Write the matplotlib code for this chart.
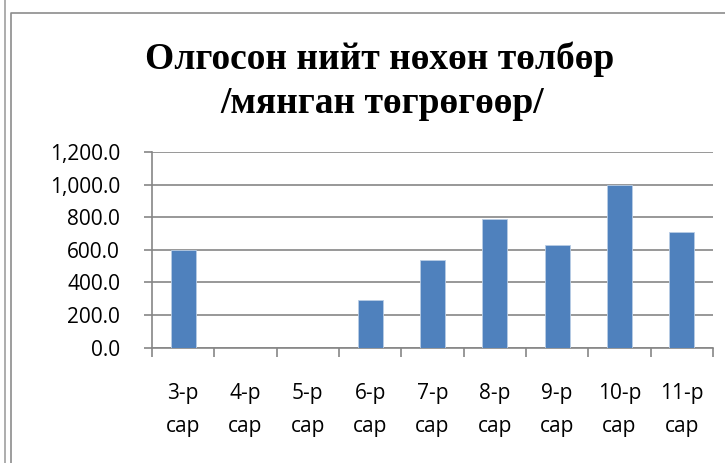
import matplotlib.pyplot as plt
from matplotlib.lines import Line2D

# Data
months = ['3-р\nсар', '4-р\nсар', '5-р\nсар', '6-р\nсар', '7-р\nсар',
          '8-р\nсар', '9-р\nсар', '10-р\nсар', '11-р\nсар']
payments = [600, 0, 0, 292, 538, 790, 630, 1000, 710]
y_ticks = [0, 200, 400, 600, 800, 1000, 1200]

title_line1 = 'Олгосон нийт нөхөн төлбөр'
title_line2 = '/мянган төгрөгөөр/'

BAR_COLOR = '#4F81BD'
AXIS_COLOR = '#868686'

fig = plt.figure(figsize=(7.25, 4.63), dpi=100)
ax = fig.add_axes([152 / 725, 1 - 347.7 / 463, (713 - 152) / 725, (347.7 - 152) / 463])

x = [i + 0.5 for i in range(len(months))]
ax.bar(x, payments, width=0.4, color=BAR_COLOR, edgecolor='#B9CDE5',
       linewidth=0.6, zorder=3)

ax.set_xlim(0, len(months))
ax.set_ylim(0, 1200)
ax.set_yticks(y_ticks)
ax.set_yticklabels([f'{v:,.1f}' for v in y_ticks])
ax.yaxis.grid(True, color=AXIS_COLOR, linewidth=1.2, zorder=0)

# major ticks at category boundaries, labels on minor ticks at centers
ax.set_xticks(range(len(months) + 1))
ax.set_xticklabels([])
ax.set_xticks(x, minor=True)
ax.set_xticklabels(months, minor=True, linespacing=1.72)
ax.tick_params(axis='x', which='major', direction='out', length=6.5,
               width=1.2, color=AXIS_COLOR)
ax.tick_params(axis='x', which='minor', length=0, pad=25.5, labelsize=15)
ax.tick_params(axis='y', direction='out', length=6, width=1.2,
               color=AXIS_COLOR, pad=17, labelsize=15)

for lbl in ax.get_xticklabels(minor=True) + ax.get_yticklabels():
    lbl.set_fontfamily(['Open Sans', 'DejaVu Sans'])

for side in ['top', 'right']:
    ax.spines[side].set_visible(False)
for side in ['left', 'bottom']:
    ax.spines[side].set_color(AXIS_COLOR)
    ax.spines[side].set_linewidth(1.2)

fig.text(380 / 725, 1 - 69 / 463, title_line1, ha='center', va='baseline',
         fontsize=27, fontweight='bold', family='Liberation Serif')
fig.text(382 / 725, 1 - 113 / 463, title_line2, ha='center', va='baseline',
         fontsize=27, fontweight='bold', family='Liberation Serif')

# chart frame lines
fig.add_artist(Line2D([4.5 / 725, 4.5 / 725], [0, 1], color='#A0A0A0', linewidth=1.2))
fig.add_artist(Line2D([11 / 725, 11 / 725, 1], [0, 1 - 13 / 463, 1 - 13 / 463],
                      color='#8C8C8C', linewidth=1.2))

fig.savefig('out.png', dpi=100)
